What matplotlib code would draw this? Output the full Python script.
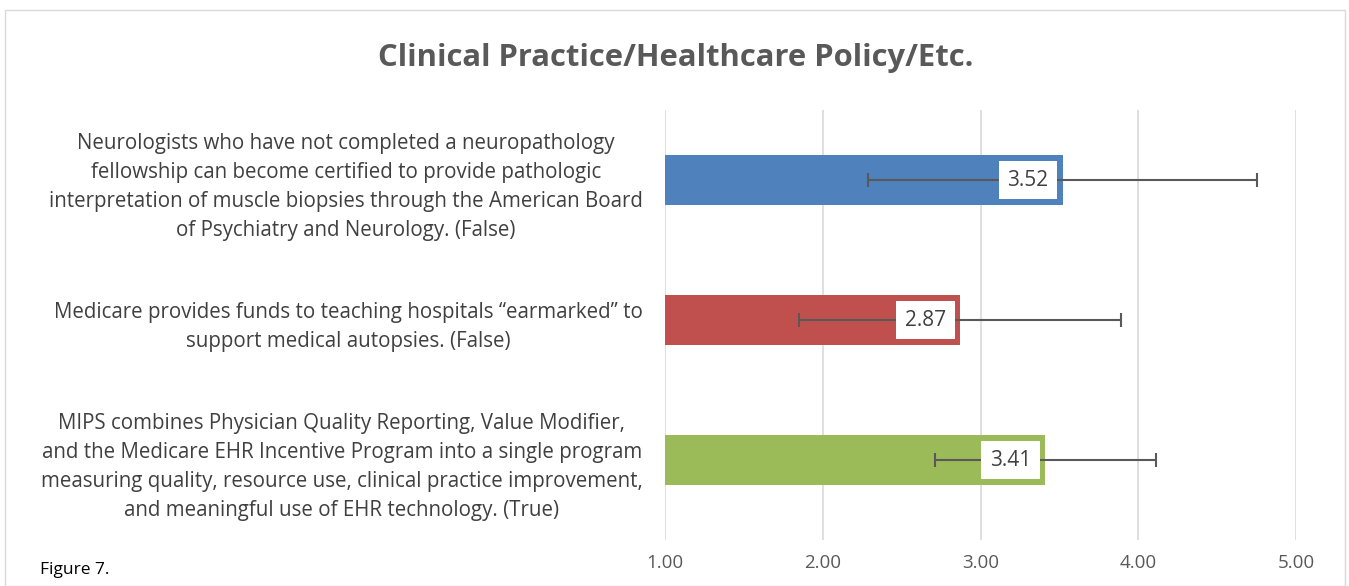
import matplotlib
matplotlib.use("Agg")
import matplotlib.pyplot as plt
from matplotlib.patches import Rectangle

categories = [
    "Neurologists who have not completed a neuropathology\nfellowship can become certified to provide pathologic\ninterpretation of muscle biopsies through the American Board\nof Psychiatry and Neurology. (False)",
    "Medicare provides funds to teaching hospitals \u201cearmarked\u201d to\nsupport medical autopsies. (False)",
    "MIPS combines Physician Quality Reporting, Value Modifier,\nand the Medicare EHR Incentive Program into a single program\nmeasuring quality, resource use, clinical practice improvement,\nand meaningful use of EHR technology. (True)",
]
values = [3.52, 2.87, 3.41]
errors = [1.23, 1.02, 0.70]
colors = ["#4F81BD", "#C0504D", "#9BBB59"]
xticks = [1.0, 2.0, 3.0, 4.0, 5.0]
title = "Clinical Practice/Healthcare Policy/Etc."

plt.rcParams['font.family'] = ['Open Sans', 'DejaVu Sans']
W, H = 1349, 586
fig = plt.figure(figsize=(W/100, H/100), dpi=100)
fig.patch.set_facecolor("white")

# chart border
fig.add_artist(Rectangle((5/W, 0.0), (1340)/W, (586-10)/H,
                         transform=fig.transFigure, fill=False,
                         edgecolor="#D9D9D9", linewidth=1.0))

ax = fig.add_axes([665/W, 1 - 540/H, (1296-665)/W, (540-110)/H])
ypos = [0, 1, 2]
ax.barh(ypos, [v - 1.0 for v in values], left=1.0, height=0.357, color=colors,
        zorder=2)
ax.errorbar(values, ypos, xerr=errors, fmt='none', ecolor="#595959",
            elinewidth=1.5, capsize=5, capthick=1.5, zorder=3)
for y, v in zip(ypos, values):
    ax.text(v - 0.22, y, f"{v:.2f}", ha="center", va="center", fontsize=15,
            color="#404040", zorder=4,
            bbox=dict(boxstyle="square,pad=0.42", facecolor="white",
                      edgecolor="none"))
ax.set_ylim(2.57, -0.5)
ax.set_xlim(1.0, 5.0)
ax.set_xticks(xticks)
ax.set_xticklabels([f"{t:.2f}" for t in xticks], fontsize=13.5, color="#595959")
ax.set_yticks(ypos)
ax.set_yticklabels(categories, fontsize=14.8, color="#404040",
                   linespacing=1.5, ha="right", multialignment="center")
ax.tick_params(axis="y", length=0, pad=16)
ax.tick_params(axis="x", length=0, pad=10)
ax.grid(axis="x", color="#D9D9D9", linewidth=1.2, zorder=0)
for s in ax.spines.values():
    s.set_visible(False)

fig.text(676/W, 1 - 58/H, title, ha="center", va="center", fontsize=22.3,
         fontweight="bold", color="#595959")
fig.text(40/W, 1 - 570/H, "Figure 7.", ha="left", va="center", fontsize=12.5,
         color="#000000")

fig.savefig("out.png", dpi=100)
